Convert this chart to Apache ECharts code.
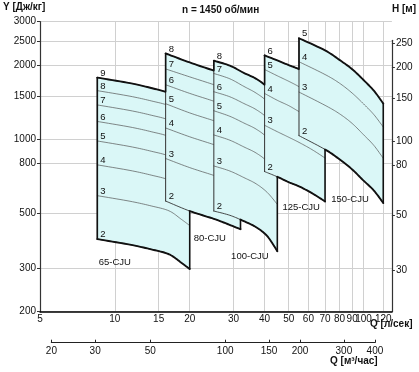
<!DOCTYPE html>
<html><head><meta charset="utf-8">
<script src="https://cdn.jsdelivr.net/npm/echarts@6/dist/echarts.min.js"></script>
<style>html,body{margin:0;padding:0;background:#fff}#c{width:419px;height:372px}</style>
</head><body><div id="c"></div>
<script>
// ---- tick labels ----
const qTicks = [5,10,15,20,30,40,50,60,70,80,90,100,120];          // Q [л/сек]
const yTicks = [200,300,500,800,1000,1500,2000,2500,3000];         // Y [Дж/кг]
const hTicks = [30,50,80,100,150,200,250];                          // H [м]
const qm3Ticks = [20,30,50,100,150,200,300,400];                    // Q [м3/час]

// ---- pump families ----
const pumpNames = ['65-CJU','80-CJU','100-CJU','125-CJU','150-CJU'];

const flow65 = [8.5, 11.5, 14, 16.5, 18.5, 20];
const stages65 = [2,3,4,5,6,7,8,9];
const head65 = [
  [394,374,358,342,316,298],
  [591,561,537,513,474,447],
  [788,748,716,684,632,596],
  [985,935,895,855,790,745],
  [1182,1122,1074,1026,948,894],
  [1379,1309,1253,1197,1106,1043],
  [1576,1496,1432,1368,1264,1192],
  [1780,1690,1615,1539,1422,1341]
];

const flow80 = [16, 20, 25, 28, 32];
const stages80 = [2,3,4,5,6,7,8];
const head80 = [
  [562,512,476,456,432],
  [836,768,714,684,648],
  [1112,1024,952,912,864],
  [1395,1280,1190,1140,1080],
  [1665,1536,1428,1368,1296],
  [1930,1792,1666,1596,1512],
  [2230,2050,1900,1824,1728]
];

const flow100 = [25, 29, 33, 37, 41, 45];
const stages100 = [2,3,4,5,6,7,8];
const head100 = [
  [512,492,466,440,405,352],
  [780,744,700,660,609,545],
  [1042,992,932,880,812,712],
  [1306,1240,1165,1100,1015,890],
  [1560,1488,1398,1320,1218,1068],
  [1850,1760,1640,1540,1421,1246],
  [2084,1990,1860,1760,1624,1424]
];

const flow125 = [40, 45, 50, 55, 62, 70];
const stages125 = [2,3,4,5,6];
const head125 = [
  [740,705,670,645,605,560],
  [1140,1074,1020,972,909,840],
  [1535,1440,1370,1296,1212,1120],
  [1920,1810,1720,1635,1515,1400],
  [2190,2090,2000,1925,1800,1670]
];

const flow150 = [55, 70, 80, 90, 100, 110, 120];
const stages150 = [2,3,4,5];
const head150 = [
  [1035,910,830,755,680,620,552],
  [1555,1374,1270,1160,1044,945,838],
  [2064,1832,1690,1540,1392,1260,1122],
  [2570,2295,2100,1925,1740,1575,1398]
];

const labelQ = [10.0, 24.1, 34.9, 56.1, 88.2];
const labelY = [318, 398, 336, 532, 573];

const pumps = [
  {flow: flow65,  stages: stages65,  heads: head65},
  {flow: flow80,  stages: stages80,  heads: head80},
  {flow: flow100, stages: stages100, heads: head100},
  {flow: flow125, stages: stages125, heads: head125},
  {flow: flow150, stages: stages150, heads: head150}
];

// ---- layout ----
const Q_MIN = 5, Q_MAX = 130, Y_MIN = 200, Y_MAX = 3000, H_MAX = 257, G = 9.81;
const GL = 40, GT = 21.7, GW = 351.9, GH = 290;
const L = Math.log10;
const EPS = 1e-6;
const pxPerDecX = GW / (L(Q_MAX) - L(Q_MIN));
const pxPerDecY = GH / (L(Y_MAX) - L(Y_MIN));
const hTop = GT + GH - pxPerDecY * (L(H_MAX) - L(Y_MIN / G));
const m3Left = GL + pxPerDecX * (L(qm3Ticks[0] / 3.6) - L(Q_MIN));
const m3Right = GL + pxPerDecX * (L(qm3Ticks[qm3Ticks.length-1] / 3.6) - L(Q_MIN));

const FONT = "'Liberation Sans', Arial, sans-serif";
const FILL = '#daf7f7';
const INK = '#111';

function dense(pts, n) {
  n = n || 10;
  if (pts.length < 3) return pts;
  const out = [];
  for (let i = 0; i < pts.length - 1; i++) {
    const p0 = pts[i-1] || pts[i], p1 = pts[i], p2 = pts[i+1], p3 = pts[i+2] || pts[i+1];
    for (let t = 0; t < n; t++) {
      const s = t / n, s2 = s*s, s3 = s2*s;
      const f = k => 0.5*((2*p1[k]) + (-p0[k]+p2[k])*s + (2*p0[k]-5*p1[k]+4*p2[k]-p3[k])*s2 + (-p0[k]+3*p1[k]-3*p2[k]+p3[k])*s3);
      out.push([f(0), f(1)]);
    }
  }
  out.push(pts[pts.length-1]);
  return out;
}
function interpY(pts, x) {
  for (let i = 0; i < pts.length - 1; i++) {
    const a = pts[i], b = pts[i+1];
    if ((x - a[0]) * (x - b[0]) <= 0 && a[0] !== b[0]) {
      return a[1] + (b[1]-a[1]) * (x - a[0]) / (b[0]-a[0]);
    }
  }
  return pts[0][1];
}
function clipFrom(pts, x) {
  const out = [[x, interpY(pts, x)]];
  pts.forEach(p => { if (p[0] > x) out.push(p); });
  return out;
}
function pl(points, stroke, w) {
  return {type:'polyline', silent:true, shape:{points: points},
    style:{stroke: stroke, lineWidth: w, fill: null, lineJoin:'round', lineCap:'round'}};
}
function txt(s, x, y, align, valign, size) {
  return {type:'text', silent:true, style:{text: s, x: x, y: y, fill: INK,
    font: size + 'px ' + FONT, align: align, verticalAlign: valign,
    textAlign: align, textVerticalAlign: valign}};
}

function renderPump(k) {
  return function (params, api) {
    const p = pumps[k];
    const toPx = (q, y) => api.coord([L(q), L(y)]);
    const curveOf = (pp, c) => dense(pp.flow.map((q, i) => toPx(q, c[i])));
    const curves = p.heads.map(c => curveOf(p, c));
    const bottom = curves[0], top = curves[curves.length-1];
    const leftX = top[0][0], rightX = top[top.length-1][0];
    const ch = [];
    ch.push({type:'polygon', silent:true, shape:{points: top.concat(bottom.slice().reverse())},
      style:{fill: FILL, stroke: null}});
    curves.forEach((c, i) => ch.push(pl(c, i === 0 ? '#333' : '#555', i === 0 ? 0.9 : 0.7)));
    ch.push(pl([[leftX, top[0][1]], [leftX, bottom[0][1]]], '#333', 1));
    let thickLeftEnd = bottom[0][1];
    let thickBottom = bottom;
    if (k > 0) {
      const prev = pumps[k-1];
      const prevMax = prev.flow[prev.flow.length-1];
      if (prevMax > p.flow[0]) {
        const prevTop = curveOf(prev, prev.heads[prev.heads.length-1]);
        thickLeftEnd = Math.min(bottom[0][1], interpY(prevTop, leftX));
        thickBottom = clipFrom(bottom, toPx(prevMax, Y_MIN)[0]);
      }
    }
    ch.push(pl(top, INK, 1.9));
    ch.push(pl([[rightX, top[top.length-1][1]], [rightX, bottom[bottom.length-1][1]]], INK, 1.6));
    ch.push(pl(thickBottom, INK, 1.9));
    ch.push(pl([[leftX, top[0][1]], [leftX, thickLeftEnd]], INK, 1.6));
    curves.forEach((c, i) => ch.push(txt(String(p.stages[i]), leftX + 3, c[0][1] + 0.5, 'left', 'bottom', 9.5)));
    const lp = toPx(labelQ[k], labelY[k]);
    ch.push(txt(pumpNames[k], lp[0], lp[1], 'center', 'middle', 9.5));
    return {type:'group', children: ch};
  };
}

const fmt = v => String(Math.round(Math.pow(10, v)));
const labelStyle = {color: INK, fontSize: 10, fontFamily: FONT};

const chart = echarts.init(document.getElementById('c'), null, {renderer:'canvas'});
chart.setOption({
  animation: false,
  backgroundColor: '#fff',
  grid: [
    {left: GL, top: GT, width: GW, height: GH, outerBoundsMode: 'none'},
    {left: GL, top: hTop, width: GW, height: GT + GH - hTop, outerBoundsMode: 'none'},
    {left: m3Left, top: 341.7, width: m3Right - m3Left, height: 1, outerBoundsMode: 'none'}
  ],
  xAxis: [
    {type:'value', gridIndex:0, min: L(Q_MIN), max: L(Q_MAX),
      axisLine:{show:true, onZero:false, lineStyle:{color:'#000', width:1.5}},
      axisTick:{show:false, customValues: qTicks.map(L)},
      axisLabel:{customValues: qTicks.map(L), formatter: fmt, margin: 3, showMinLabel: true, showMaxLabel: true, ...labelStyle},
      splitLine:{show:true, lineStyle:{color:'#d0d0d0', width:1}}},
    {type:'value', gridIndex:1, min: L(Q_MIN), max: L(Q_MAX), show:false},
    {type:'value', gridIndex:2, min: L(qm3Ticks[0]) - EPS, max: L(qm3Ticks[qm3Ticks.length-1]) + EPS,
      axisLine:{show:true, onZero:false, lineStyle:{color:'#222', width:1.2}},
      axisTick:{show:true, inside:true, length:3, customValues: qm3Ticks.map(L), lineStyle:{color:'#222'}},
      axisLabel:{customValues: qm3Ticks.map(L), formatter: fmt, margin: 4, showMinLabel: true, showMaxLabel: true, ...labelStyle},
      splitLine:{show:false}}
  ],
  yAxis: [
    {type:'value', gridIndex:0, min: L(Y_MIN) - EPS, max: L(Y_MAX) + EPS,
      axisLine:{show:true, onZero:false, lineStyle:{color:'#333', width:1.2}},
      axisTick:{show:true, length:3, customValues: yTicks.map(L), lineStyle:{color:'#333'}},
      axisLabel:{customValues: yTicks.map(L), formatter: fmt, margin: 4, showMinLabel: true, showMaxLabel: true, ...labelStyle},
      splitLine:{show:true, lineStyle:{color:'#d0d0d0', width:1}}},
    {type:'value', gridIndex:1, position:'right', min: L(Y_MIN / G), max: L(H_MAX),
      axisLine:{show:true, onZero:false, lineStyle:{color:'#333', width:1.2}},
      axisTick:{show:true, length:3, customValues: hTicks.map(L), lineStyle:{color:'#333'}},
      axisLabel:{customValues: hTicks.map(L), formatter: fmt, margin: 4, showMinLabel: true, showMaxLabel: true, ...labelStyle},
      splitLine:{show:false}},
    {type:'value', gridIndex:2, min:0, max:1, show:false}
  ],
  graphic: [
    {type:'text', left: 3, top: 2, style:{text:'Y [Дж/кг]', fill: INK, font: 'bold 10px ' + FONT}},
    {type:'text', left: 182, top: 5, style:{text:'n = 1450 об/мин', fill: INK, font: 'bold 10px ' + FONT}},
    {type:'text', left: 392, top: 4, style:{text:'H [м]', fill: INK, font: 'bold 10px ' + FONT}},
    {type:'text', left: 370, top: 319, style:{text:'Q [л/сек]', fill: INK, font: 'bold 10px ' + FONT}},
    {type:'text', left: 330, top: 356, style:{text:'Q [м³/час]', fill: INK, font: 'bold 10px ' + FONT}}
  ],
  series: pumps.map((p, k) => ({
    type:'custom', xAxisIndex:0, yAxisIndex:0, silent:true, clip:false,
    data:[[L(p.flow[0]), L(p.heads[0][0])]],
    renderItem: renderPump(k)
  }))
});
</script></body></html>
